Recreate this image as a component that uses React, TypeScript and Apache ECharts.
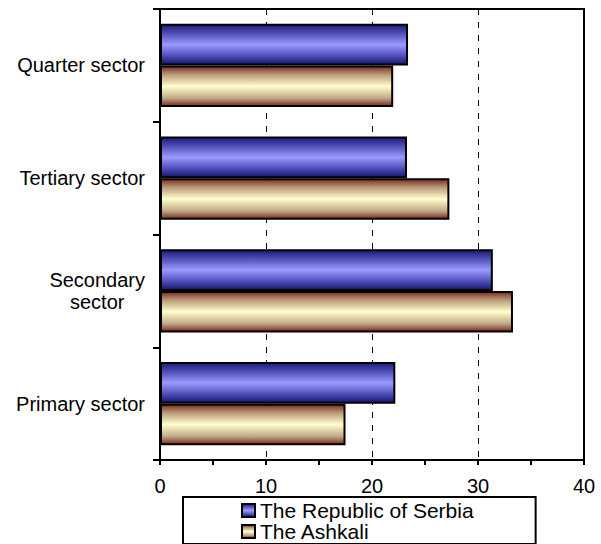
import React, { useEffect, useRef } from "react";
import * as echarts from "echarts";

const categories = ["Primary sector", "Secondary\nsector", "Tertiary sector", "Quarter sector"];
const serbiaValues = [22.2, 31.4, 23.3, 23.4];
const ashkaliValues = [17.5, 33.3, 27.3, 22.0];
const seriesNames = ["The Republic of Serbia", "The Ashkali"];

const FONT = '"Liberation Sans", Arial, sans-serif';

const serbiaGradient = new echarts.graphic.LinearGradient(0, 0, 0, 1, [
  { offset: 0, color: "#1c1c74" },
  { offset: 0.2, color: "#4a4ab4" },
  { offset: 0.5, color: "#9a9aff" },
  { offset: 0.8, color: "#4a4ab4" },
  { offset: 1, color: "#16166a" },
]);

const ashkaliGradient = new echarts.graphic.LinearGradient(0, 0, 0, 1, [
  { offset: 0, color: "#7a2a1c" },
  { offset: 0.2, color: "#b89878" },
  { offset: 0.5, color: "#ffffcc" },
  { offset: 0.8, color: "#c0a888" },
  { offset: 1, color: "#7a2a1c" },
]);

export default function App() {
  const ref = useRef<HTMLDivElement>(null);
  useEffect(() => {
    if (!ref.current) return;
    const chart = echarts.init(ref.current, null, { renderer: "svg" });
    chart.setOption({
      animation: false,
      grid: {
        left: 160,
        right: 17,
        top: 9,
        bottom: 84,
        show: true,
        borderColor: "#000",
        borderWidth: 2,
        backgroundColor: "transparent",
      },
      legend: {
        orient: "vertical",
        left: 183,
        top: 497,
        data: seriesNames,
        icon: "rect",
        padding: [3, 62, 2, 58],
        itemGap: 0,
        itemWidth: 13,
        itemHeight: 13,
        borderColor: "#000",
        borderWidth: 2,
        textStyle: { fontFamily: FONT, fontSize: 21, color: "#000", lineHeight: 20 },
        itemStyle: { borderColor: "#000", borderWidth: 2 },
      },
      xAxis: {
        type: "value",
        min: 0,
        max: 40,
        interval: 10,
        axisLine: { show: true, lineStyle: { color: "#000", width: 2 } },
        axisTick: { show: true, length: 5, lineStyle: { color: "#000", width: 2 } },
        minorTick: { show: true, splitNumber: 2, length: 5, lineStyle: { color: "#000", width: 2 } },
        axisLabel: { fontFamily: FONT, fontSize: 20, color: "#000", margin: 16 },
        splitLine: { show: true, lineStyle: { color: "#000", type: [6, 7], width: 1 } },
      },
      yAxis: {
        type: "category",
        data: categories,
        axisLine: { show: true, lineStyle: { color: "#000", width: 2 } },
        axisTick: { show: true, length: 7, lineStyle: { color: "#000", width: 2 } },
        axisLabel: {
          fontFamily: FONT,
          fontSize: 20,
          color: "#000",
          margin: 15,
          formatter: (v: string) => v.split("\n").map((s) => `{c|${s}}`).join("\n"),
          rich: { c: { align: "center", fontFamily: FONT, fontSize: 20, color: "#000", lineHeight: 22 } },
        },
      },
      series: [
        {
          name: seriesNames[0],
          type: "bar",
          data: serbiaValues,
          barCategoryGap: "26%",
          barGap: "0%",
          itemStyle: { color: serbiaGradient, borderColor: "#000", borderWidth: 2 },
        },
        {
          name: seriesNames[1],
          type: "bar",
          data: ashkaliValues,
          barCategoryGap: "26%",
          barGap: "0%",
          itemStyle: { color: ashkaliGradient, borderColor: "#000", borderWidth: 2 },
        },
      ],
    });
    return () => chart.dispose();
  }, []);
  return (
    <div
      ref={ref}
      style={{ position: "fixed", left: 0, top: 0, width: 601, height: 544, background: "#fff" }}
    />
  );
}
